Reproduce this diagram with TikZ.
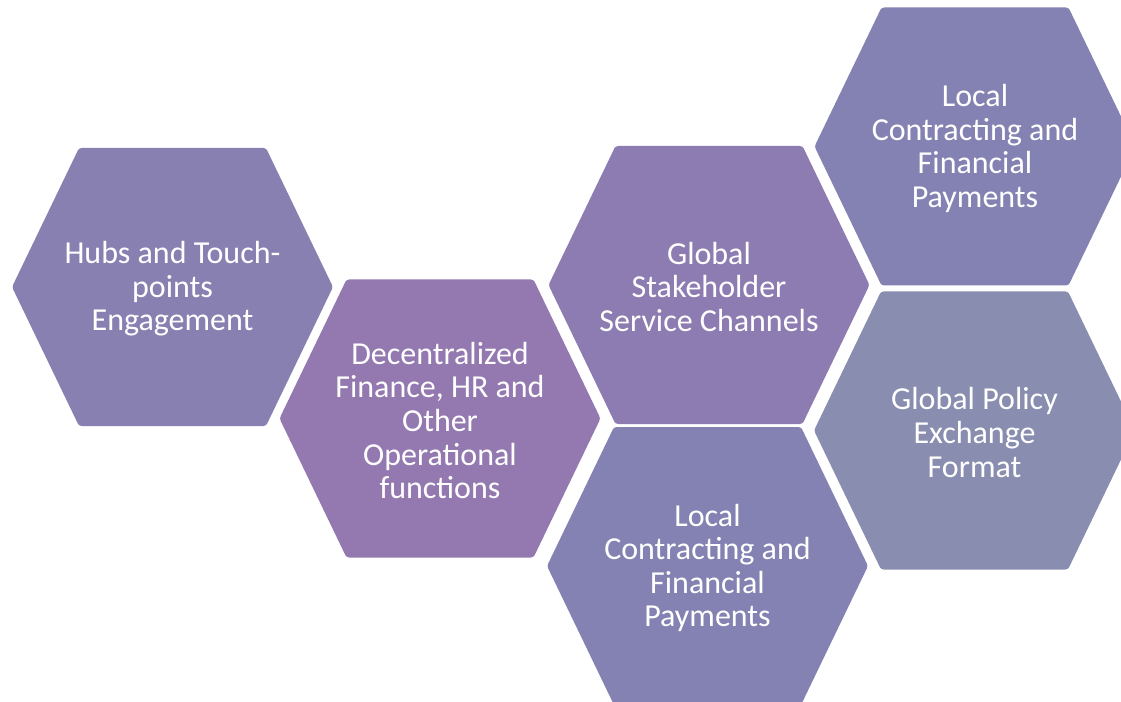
\documentclass[tikz,border=0pt]{standalone}
\usepackage{fontspec}
\setmainfont{Carlito}
\definecolor{hexHubs}{RGB}{137,128,178}
\definecolor{hexDecen}{RGB}{147,121,176}
\definecolor{hexStake}{RGB}{141,124,177}
\definecolor{hexLocal}{RGB}{132,130,178}
\definecolor{hexPolicy}{RGB}{137,141,175}
\tikzset{hexlabel/.style={text=white,align=center,font=\fontsize{24}{25.2}\selectfont}}
\begin{document}
\begin{tikzpicture}[x=0.75pt,y=-0.75pt]
\useasboundingbox (0,0) rectangle (1121,702);
\def\hw{160.5}
\def\hh{139}
\def\ha{93.5}
\foreach \cx/\cy/\col/\nm/\txt in {
	172.5/287/hexHubs/hubs/{Hubs and Touch-\\points\\Engagement},
	440/418.5/hexDecen/decen/{Decentralized\\Finance, HR and\\Other\\Operational\\functions},
	709/285/hexStake/stake/{Global\\Stakeholder\\Service Channels},
	707.5/566/hexLocal/localb/{Local\\Contracting and\\Financial\\Payments},
	975/146.5/hexLocal/localt/{Local\\Contracting and\\Financial\\Payments},
	974.5/430.5/hexPolicy/policy/{Global Policy\\Exchange\\Format}}{
	\fill[color=\col,rounded corners=2pt]
		(\cx-\hw,\cy)--(\cx-\ha,\cy-\hh)--(\cx+\ha,\cy-\hh)
		--(\cx+\hw,\cy)--(\cx+\ha,\cy+\hh)--(\cx-\ha,\cy+\hh)--cycle;
	\node[hexlabel] (\nm) at (\cx,\cy+2) {\txt};
}
\end{tikzpicture}
\end{document}
